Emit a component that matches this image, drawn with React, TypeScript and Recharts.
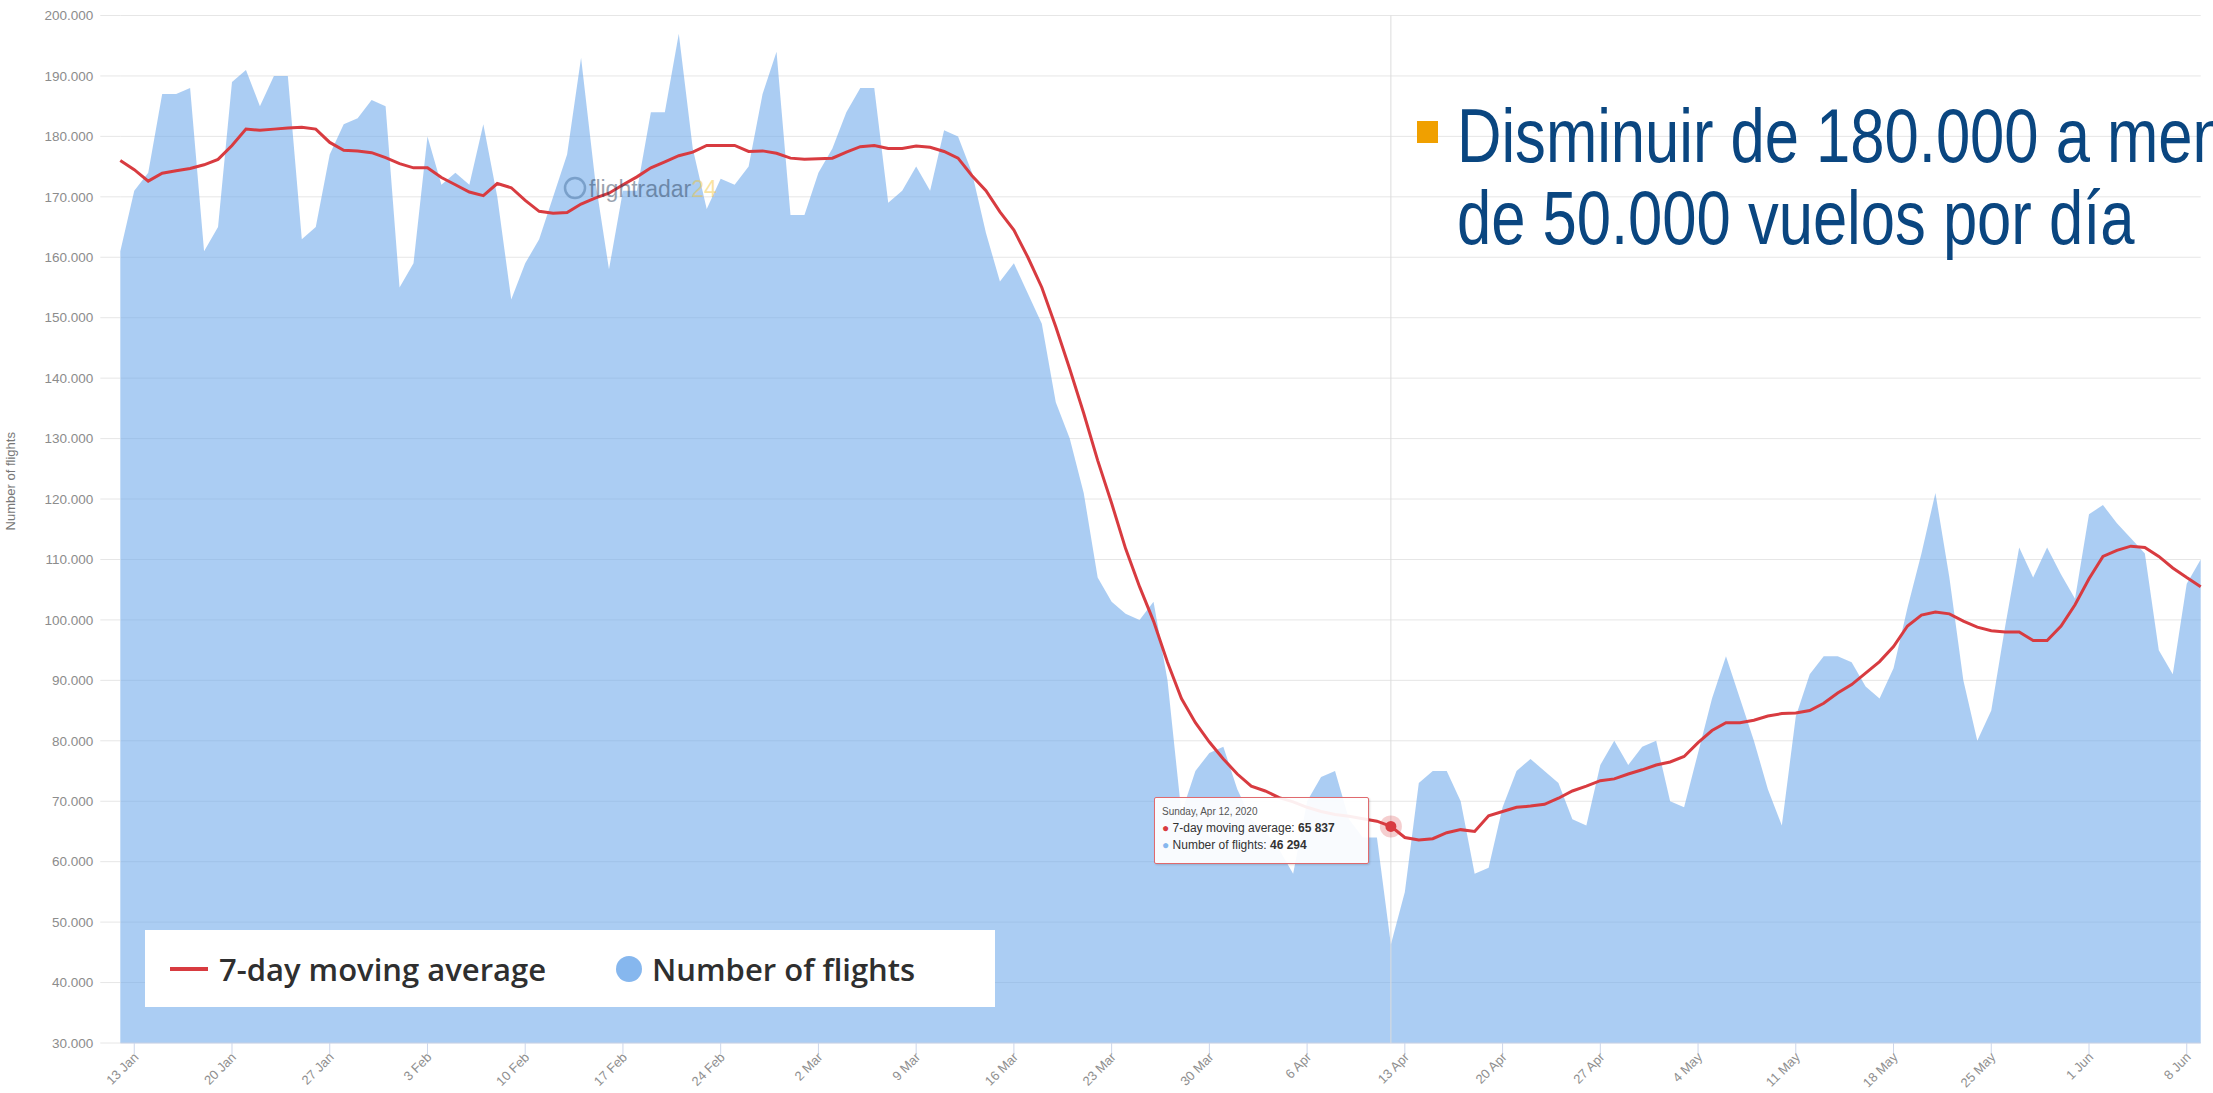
import React from 'react';
import { ComposedChart, Area, Line, XAxis, YAxis, CartesianGrid, Tooltip, Legend } from 'recharts';

const RED = '#d83b40';
const AREA_BLUE = '#6fa8ea';
const DOT_BLUE = '#86b7ee';

// daily values, 12 Jan 2020 .. 9 Jun 2020
const flights = [
  161000, 171000, 174000, 187000, 187000, 188000, 161000, 165000, 189000, 191000,
  185000, 190000, 190000, 163000, 165000, 177000, 182000, 183000, 186000, 185000,
  155000, 159000, 180000, 172000, 174000, 172000, 182000, 170000, 153000, 159000,
  163000, 170000, 177000, 193000, 173000, 158000, 171000, 171000, 184000, 184000,
  197000, 178000, 168000, 173000, 172000, 175000, 187000, 194000, 167000, 167000,
  174000, 178000, 184000, 188000, 188000, 169000, 171000, 175000, 171000, 181000,
  180000, 174000, 164000, 156000, 159000, 154000, 149000, 136000, 130000, 121000,
  107000, 103000, 101000, 100000, 103000, 90000, 68000, 75000, 78000, 79000,
  72000, 67000, 65000, 62000, 58000, 70000, 74000, 75000, 67000, 64000,
  64000, 46294, 55000, 73000, 75000, 75000, 70000, 58000, 59000, 69000,
  75000, 77000, 75000, 73000, 67000, 66000, 76000, 80000, 76000, 79000,
  80000, 70000, 69000, 78000, 87000, 94000, 87000, 80000, 72000, 66000,
  84000, 91000, 94000, 94000, 93000, 89000, 87000, 92000, 102000, 111000,
  121000, 107000, 90000, 80000, 85000, 99000, 112000, 107000, 112000, 107500,
  103500, 117500, 119000, 116000, 113500, 111000, 95000, 91000, 106000, 110000,
];

const movingAvg = [
  176000, 174500, 172600, 173900, 174300, 174700, 175300, 176200, 178500, 181200,
  181000, 181200, 181400, 181500, 181200, 179000, 177700, 177600, 177300, 176500,
  175500, 174800, 174800, 173200, 172000, 170800, 170200, 172200, 171500, 169400,
  167600, 167300, 167400, 168800, 169800, 170600, 172000, 173300, 174800, 175800,
  176800, 177400, 178500, 178500, 178500, 177500, 177600, 177200, 176400, 176200,
  176300, 176400, 177400, 178300, 178500, 178000, 178000, 178400, 178200, 177500,
  176400, 173500, 171000, 167500, 164500, 160000, 155000, 148500, 141500, 134200,
  126400, 119300, 111800, 105500, 99800, 93000, 87000, 83000, 79800, 77000,
  74500, 72500, 71700, 70600, 69900, 69000, 68300, 67800, 67500, 67100,
  66700, 65837, 64000, 63600, 63800, 64800, 65300, 65000, 67600, 68300,
  69000, 69200, 69500, 70500, 71700, 72500, 73400, 73700, 74500, 75200,
  76000, 76500, 77400, 79700, 81700, 83000, 83000, 83400, 84100, 84500,
  84600, 85000, 86200, 87900, 89300, 91200, 93100, 95600, 99000, 100800,
  101300, 101000, 99800, 98800, 98200, 98000, 98000, 96600, 96600, 99000,
  102500, 106800, 110500, 111500, 112200, 112000, 110500, 108600, 107000, 105500,
];

const xTicks = [
  '13 Jan', '20 Jan', '27 Jan', '3 Feb', '10 Feb', '17 Feb', '24 Feb', '2 Mar', '9 Mar', '16 Mar', '23 Mar',
  '30 Mar', '6 Apr', '13 Apr', '20 Apr', '27 Apr', '4 May', '11 May', '18 May', '25 May', '1 Jun', '8 Jun',
];

const yTicks = [
  30000, 40000, 50000, 60000, 70000, 80000, 90000, 100000, 110000, 120000,
  130000, 140000, 150000, 160000, 170000, 180000, 190000, 200000,
];

const HOVER_INDEX = 91; // Sunday 12 Apr

const MONTHS = ['Jan', 'Feb', 'Mar', 'Apr', 'May', 'Jun'];
const WEEKDAYS = ['Sunday', 'Monday', 'Tuesday', 'Wednesday', 'Thursday', 'Friday', 'Saturday'];
const START = Date.UTC(2020, 0, 12);

const rows = flights.map((f, i) => {
  const d = new Date(START + i * 86400000);
  const m = MONTHS[d.getUTCMonth()];
  return {
    date: `${d.getUTCDate()} ${m}`,
    full: `${WEEKDAYS[d.getUTCDay()]}, ${m} ${d.getUTCDate()}, ${d.getUTCFullYear()}`,
    flights: f,
    avg: movingAvg[i],
  };
});

const dotFmt = (v: number) => `${Math.floor(v / 1000)}.${String(v % 1000).padStart(3, '0')}`;
const spaceFmt = (v: number) => String(Math.round(v)).replace(/\B(?=(\d{3})+(?!\d))/g, ' ');

function XTick({ x, y, payload }: any) {
  const ax = x + 5;
  const ay = y + 2;
  return (
    <text x={ax} y={ay} transform={`rotate(-45 ${ax} ${ay})`} textAnchor="end" fontSize={13} fill="#8f8f8f">
      {payload.value}
    </text>
  );
}

function TipBox({ active, payload }: any) {
  if (!active || !payload?.length) return null;
  const row = payload[0].payload;
  return (
    <div
      style={{
        width: 215,
        height: 67,
        boxSizing: 'border-box',
        background: 'rgba(255,255,255,0.92)',
        border: '1px solid #e06a6e',
        borderRadius: 2,
        padding: '5px 7px',
        fontSize: 12,
        lineHeight: '17px',
        color: '#333',
        whiteSpace: 'nowrap',
        boxShadow: '1px 1px 2px rgba(0,0,0,0.15)',
      }}
    >
      <div style={{ fontSize: 10, color: '#555' }}>{row.full}</div>
      <div>
        <span style={{ color: RED }}>●</span> 7-day moving average: <b>{spaceFmt(row.avg)}</b>
      </div>
      <div>
        <span style={{ color: DOT_BLUE }}>●</span> Number of flights: <b>{spaceFmt(row.flights)}</b>
      </div>
    </div>
  );
}

const LEGEND_ORDER = ['avg', 'flights'];

function LegendBox({ payload }: any) {
  const items = [...(payload || [])].sort(
    (a: any, b: any) => LEGEND_ORDER.indexOf(a.dataKey) - LEGEND_ORDER.indexOf(b.dataKey),
  );
  return (
    <div
      style={{
        width: 850,
        height: 77,
        background: '#fff',
        display: 'flex',
        alignItems: 'center',
        paddingLeft: 25,
        boxSizing: 'border-box',
        fontFamily: '"Open Sans"',
        fontWeight: 600,
        fontSize: 31,
        color: '#2f2f2f',
      }}
    >
      {items.map((it: any) =>
        it.dataKey === 'avg' ? (
          <React.Fragment key={it.dataKey}>
            <span style={{ width: 38, height: 4, background: RED, marginRight: 11 }} />
            <span style={{ marginRight: 70 }}>{it.value}</span>
          </React.Fragment>
        ) : (
          <React.Fragment key={it.dataKey}>
            <span style={{ width: 26, height: 26, borderRadius: 13, background: DOT_BLUE, marginRight: 10 }} />
            <span>{it.value}</span>
          </React.Fragment>
        ),
      )}
    </div>
  );
}

function HoverDot(p: any) {
  return (
    <g>
      <circle cx={p.cx} cy={p.cy} r={11} fill={RED} fillOpacity={0.25} />
      <circle cx={p.cx} cy={p.cy} r={5.5} fill={RED} />
    </g>
  );
}

export default function App() {
  return (
    <div
      style={{
        position: 'absolute',
        left: 0,
        top: 0,
        width: 2213,
        height: 1093,
        overflow: 'hidden',
        background: '#fff',
        fontFamily: '"Liberation Sans", Arial, sans-serif',
      }}
    >
      <ComposedChart width={2213} height={1093} data={rows} margin={{ top: 15.5, right: 12.3, bottom: 0, left: 0 }}>
        <CartesianGrid vertical={false} stroke="#e6e6e6" />
        <XAxis
          dataKey="date"
          scale="point"
          ticks={xTicks}
          interval={0}
          height={50}
          tickSize={11}
          tickMargin={2}
          axisLine={{ stroke: '#ccd6eb' }}
          tickLine={{ stroke: '#ccd6eb' }}
          tick={<XTick />}
        />
        <YAxis
          domain={[30000, 200000]}
          ticks={yTicks}
          width={120.3}
          tickSize={20}
          tickMargin={7}
          axisLine={false}
          tickLine={{ stroke: '#e6e6e6' }}
          tickFormatter={dotFmt}
          tick={{ fontSize: 13.5, fill: '#8c8c8c' }}
          label={{
            value: 'Number of flights',
            angle: -90,
            position: 'insideLeft',
            offset: 10,
            dy: -48,
            style: { fontSize: 13, fill: '#777', textAnchor: 'middle' },
          }}
        />
        <Tooltip
          defaultIndex={HOVER_INDEX}
          position={{ x: 1154, y: 797 }}
          content={<TipBox />}
          cursor={{ stroke: '#dcdcdc', strokeWidth: 1 }}
          isAnimationActive={false}
        />
        <Legend
          layout="horizontal"
          verticalAlign="middle"
          align="center"
          content={<LegendBox />}
          wrapperStyle={{ left: 145, top: 930, width: 850, height: 77 }}
        />
        <Area
          type="linear"
          dataKey="flights"
          name="Number of flights"
          stroke="none"
          fill={AREA_BLUE}
          fillOpacity={0.58}
          dot={false}
          activeDot={false}
          isAnimationActive={false}
        />
        <Line
          type="linear"
          dataKey="avg"
          name="7-day moving average"
          stroke={RED}
          strokeWidth={3}
          dot={false}
          activeDot={HoverDot}
          isAnimationActive={false}
        />
      </ComposedChart>
      <svg
        width={2213}
        height={1093}
        style={{ position: 'absolute', left: 0, top: 0, pointerEvents: 'none' }}
      >
        <g opacity={0.45}>
          <circle cx={575} cy={188} r={10} fill="none" stroke="#3f6b9a" strokeWidth={2.5} />
          <text x={589} y={197} fontSize={23} fill="#1f3550">
            flightradar<tspan fill="#f2c230">24</tspan>
          </text>
        </g>
        <rect x={1417} y={121} width={21} height={22} fill="#f0a000" />
        <text
          transform="translate(1457 162) scale(0.81 1)"
          fontSize={76}
          fill="#0a4680"
          fontFamily='"Liberation Sans", Arial, sans-serif'
        >
          Disminuir de 180.000 a menos
        </text>
        <text
          transform="translate(1457 244) scale(0.81 1)"
          fontSize={76}
          fill="#0a4680"
          fontFamily='"Liberation Sans", Arial, sans-serif'
        >
          de 50.000 vuelos por día
        </text>
      </svg>
    </div>
  );
}
